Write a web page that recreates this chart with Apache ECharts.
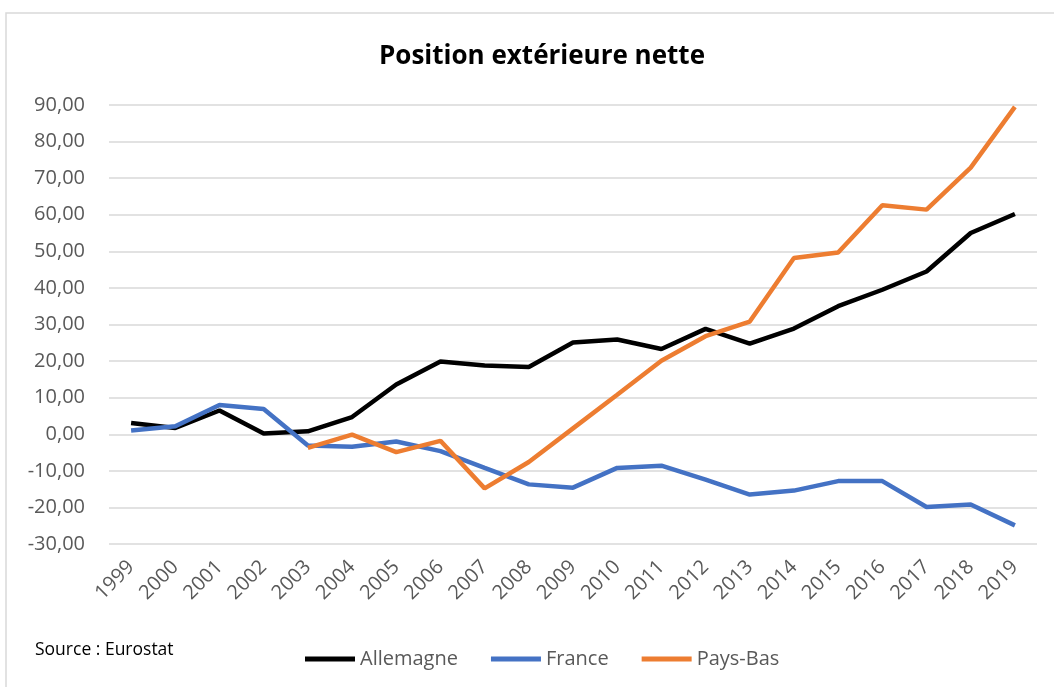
<!DOCTYPE html>
<html>
<head>
<meta charset="utf-8">
<script src="https://cdn.jsdelivr.net/npm/echarts@6/dist/echarts.min.js"></script>
<style>
html,body{margin:0;padding:0;background:#fff;}
#chart{width:1054px;height:687px;}
</style>
</head>
<body>
<div id="chart"></div>
<script>
var years = ['1999','2000','2001','2002','2003','2004','2005','2006','2007','2008','2009','2010','2011','2012','2013','2014','2015','2016','2017','2018','2019'];
var allemagne = [3.1, 1.7, 6.5, 0.2, 0.8, 4.7, 13.6, 19.9, 18.8, 18.4, 25.1, 25.9, 23.3, 28.8, 24.8, 28.9, 35.0, 39.5, 44.5, 55.0, 60.2];
var france = [1.0, 2.2, 8.0, 6.9, -3.1, -3.4, -2.0, -4.6, -9.2, -13.7, -14.6, -9.2, -8.6, -12.4, -16.5, -15.4, -12.8, -12.8, -19.9, -19.2, -24.9];
var paysBas = [null, null, null, null, -3.7, -0.1, -4.9, -1.8, -14.8, -7.6, 1.6, 10.8, 20.1, 26.8, 30.8, 48.2, 49.7, 62.6, 61.4, 72.9, 89.5];
var seriesNames = ['Allemagne', 'France', 'Pays-Bas'];
var titleText = 'Position extérieure nette';
var sourceText = 'Source : Eurostat';

var FONT = '"Open Sans", "Liberation Sans", sans-serif';
var chart = echarts.init(document.getElementById('chart'), null, {renderer: 'canvas'});
var option = {
  backgroundColor: '#ffffff',
  animation: false,
  title: {
    text: titleText,
    left: 537,
    textAlign: 'center',
    top: 39,
    textStyle: {fontFamily: FONT, fontSize: 26, fontWeight: 'bold', color: '#000000'}
  },
  graphic: [
    {type: 'rect', shape: {x: 6, y: 13, width: 1100, height: 700}, style: {fill: 'none', stroke: '#d9d9d9', lineWidth: 1.5}, silent: true},
    {type: 'text', left: 35, top: 641, style: {text: sourceText, fontFamily: FONT, fontSize: 17.5, fill: '#000000'}}
  ],
  legend: {
    left: 300,
    top: 644,
    itemWidth: 50,
    itemHeight: 5,
    itemGap: 33,
    icon: 'rect',
    textStyle: {fontFamily: FONT, fontSize: 20, color: '#595959'},
    data: seriesNames
  },
  grid: {left: 109, right: 17, top: 105, bottom: 143, containLabel: false},
  xAxis: {
    type: 'category',
    data: years,
    boundaryGap: true,
    axisLine: {show: false},
    axisTick: {show: false},
    axisLabel: {rotate: 45, margin: 20, fontFamily: FONT, fontSize: 20, color: '#595959'}
  },
  yAxis: {
    type: 'value',
    min: -30,
    max: 90,
    interval: 10,
    axisLine: {show: false},
    axisTick: {show: false},
    splitLine: {lineStyle: {color: '#d9d9d9', width: 1.5}},
    axisLabel: {
      margin: 24,
      fontFamily: FONT, fontSize: 20, color: '#595959',
      formatter: function (v) { return v.toFixed(2).replace('.', ','); }
    }
  },
  series: [
    {name: seriesNames[0], type: 'line', data: allemagne, showSymbol: false, symbol: 'none', lineStyle: {color: '#000000', width: 4.5}, itemStyle: {color: '#000000'}},
    {name: seriesNames[1], type: 'line', data: france, showSymbol: false, symbol: 'none', lineStyle: {color: '#4472C4', width: 4.5}, itemStyle: {color: '#4472C4'}},
    {name: seriesNames[2], type: 'line', data: paysBas, showSymbol: false, symbol: 'none', lineStyle: {color: '#ED7D31', width: 4.5}, itemStyle: {color: '#ED7D31'}}
  ]
};
chart.setOption(option);
</script>
</body>
</html>
